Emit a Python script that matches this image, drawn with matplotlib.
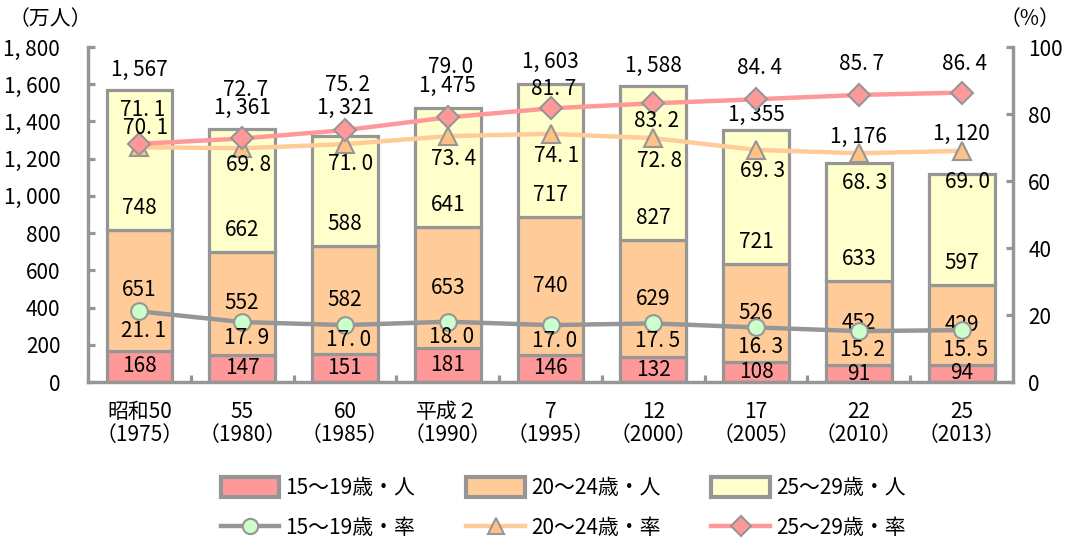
import numpy as np
import matplotlib
matplotlib.use("Agg")
import matplotlib.pyplot as plt
from matplotlib.patches import Patch
from matplotlib.lines import Line2D

plt.rcParams['font.family'] = ['Noto Sans CJK JP', 'DejaVu Sans']

# 年次
years = ["昭和50\n（1975）", "55\n（1980）", "60\n（1985）", "平成２\n（1990）", "7\n（1995）",
         "12\n（2000）", "17\n（2005）", "22\n（2010）", "25\n（2013）"]

# 人数（万人）
pop_15_19 = [168, 147, 151, 181, 146, 132, 108, 91, 94]
pop_20_24 = [651, 552, 582, 653, 740, 629, 526, 452, 429]
pop_25_29 = [748, 662, 588, 641, 717, 827, 721, 633, 597]
pop_total = [1567, 1361, 1321, 1475, 1603, 1588, 1355, 1176, 1120]

# 率（%）
rate_15_19 = [21.1, 17.9, 17.0, 18.0, 17.0, 17.5, 16.3, 15.2, 15.5]
rate_20_24 = [70.1, 69.8, 71.0, 73.4, 74.1, 72.8, 69.3, 68.3, 69.0]
rate_25_29 = [71.1, 72.7, 75.2, 79.0, 81.7, 83.2, 84.4, 85.7, 86.4]

series_names = ["15～19歳", "20～24歳", "25～29歳"]

# label offsets in pixels (up is positive)
total_dy = [20, 21, 28, 22, 22, 21, 15, 26, 40]
rate25_dy = [34, 48, 45, 50, 19, -18, 31, 31, 29]
rate20_dy = [19, -17, -20, -23, -22, -23, -21, -30, -31]
rate15_dy = [-20, -16, -15, -15, -16, -18, -20, -19, -20]

GRAY = '#969696'
RED = '#FF9999'
ORANGE = '#FFCC99'
YELLOW = '#FFFFCC'
GREEN = '#CCFFCC'
FS = 15


def fmt_int(v):
    return f"{v:,}".replace(",", ", ")


def fmt_rate(v):
    return f"{v:.1f}".replace(".", ". ")


fig = plt.figure(figsize=(10.67, 5.47), dpi=100)
ax = fig.add_axes([0.0825, 0.3016, 0.8669, 0.6124])
ax2 = ax.twinx()

x = np.arange(len(years))
w = 0.64
b1 = np.array(pop_15_19)
b2 = b1 + np.array(pop_20_24)

bar_kw = dict(width=w, edgecolor=GRAY, linewidth=2.3, zorder=2)
ax.bar(x, pop_15_19, color=RED, **bar_kw)
ax.bar(x, pop_20_24, bottom=b1, color=ORANGE, **bar_kw)
ax.bar(x, pop_25_29, bottom=b2, color=YELLOW, **bar_kw)

for i in range(len(x)):
    ax.text(x[i], pop_15_19[i] / 2, str(pop_15_19[i]), ha='center', va='center', fontsize=FS, zorder=5)
    ax.text(x[i], b1[i] + pop_20_24[i] / 2, str(pop_20_24[i]), ha='center', va='center', fontsize=FS, zorder=5)
    ax.annotate(str(pop_25_29[i]), (x[i], b2[i]), xytext=(0, 22), textcoords='offset pixels',
                ha='center', va='center', fontsize=FS, zorder=5)
    ax.annotate(fmt_int(pop_total[i]), (x[i], pop_total[i]), xytext=(0, total_dy[i]),
                textcoords='offset pixels', ha='center', va='center', fontsize=FS, zorder=5)

ax.set_xlim(-0.5, len(x) - 0.5)
ax.set_ylim(0, 1800)
ax.set_yticks(np.arange(0, 1801, 200))
ax.set_yticklabels([fmt_int(v) for v in range(0, 1801, 200)])
ax.set_xticks(x)
ax.set_xticklabels(years, fontsize=FS, linespacing=1.05)
ax.set_xticks(np.arange(0.5, len(x) - 1, 1), minor=True)
ax.tick_params(axis='x', which='major', length=0, pad=14)
ax.tick_params(axis='x', which='minor', direction='in', length=5, width=2.3, color=GRAY)
ax.tick_params(axis='y', direction='in', length=5, width=2.3, color=GRAY, labelsize=FS, pad=20)

ax2.set_ylim(0, 100)
ax2.set_yticks(np.arange(0, 101, 20))
ax2.tick_params(axis='y', direction='in', length=5, width=2.3, color=GRAY, labelsize=FS, pad=11)

for a in (ax, ax2):
    a.spines['top'].set_visible(False)
    for s in ('left', 'right', 'bottom'):
        a.spines[s].set_color(GRAY)
        a.spines[s].set_linewidth(2.3)

# 率の折れ線
line_kw = dict(linewidth=3.2, markeredgecolor=GRAY, markeredgewidth=1.5)
ax2.plot(x, rate_15_19, color=GRAY, marker='o', markersize=12, markerfacecolor=GREEN, zorder=4, **line_kw)
ax2.plot(x, rate_20_24, color=ORANGE, marker='^', markersize=13, markerfacecolor='#FFC285', zorder=4, **line_kw)
ax2.plot(x, rate_25_29, color=RED, marker='D', markersize=11, markerfacecolor=RED, zorder=4, **line_kw)

for vals, dys, dx in ((rate_15_19, rate15_dy, 4), (rate_20_24, rate20_dy, 6), (rate_25_29, rate25_dy, 3)):
    for i in range(len(x)):
        ax2.annotate(fmt_rate(vals[i]), (x[i], vals[i]), xytext=(dx, dys[i]), textcoords='offset pixels',
                     ha='center', va='center', fontsize=FS, zorder=6)

fig.text(0.008, 0.965, "（万人）", fontsize=FS, ha='left', va='center')
fig.text(0.994, 0.965, "（%）", fontsize=FS, ha='right', va='center')

handles = [
    Patch(facecolor=RED, edgecolor=GRAY, linewidth=3),
    Line2D([], [], color=GRAY, marker='o', markersize=11, markerfacecolor=GREEN, **line_kw),
    Patch(facecolor=ORANGE, edgecolor=GRAY, linewidth=3),
    Line2D([], [], color=ORANGE, marker='^', markersize=12, markerfacecolor='#FFC285', **line_kw),
    Patch(facecolor=YELLOW, edgecolor=GRAY, linewidth=3),
    Line2D([], [], color=RED, marker='D', markersize=10, markerfacecolor=RED, **line_kw),
]
labels = [series_names[0] + "・人", series_names[0] + "・率",
          series_names[1] + "・人", series_names[1] + "・率",
          series_names[2] + "・人", series_names[2] + "・率"]
fig.legend(handles, labels, ncol=3, loc='center left', bbox_to_anchor=(0.207, 0.071),
           frameon=False, fontsize=FS, handlelength=2.8, handleheight=1.1, handletextpad=0.3,
           columnspacing=2.45, labelspacing=0.85, borderpad=0, borderaxespad=0)

fig.savefig("out.png", dpi=100)
